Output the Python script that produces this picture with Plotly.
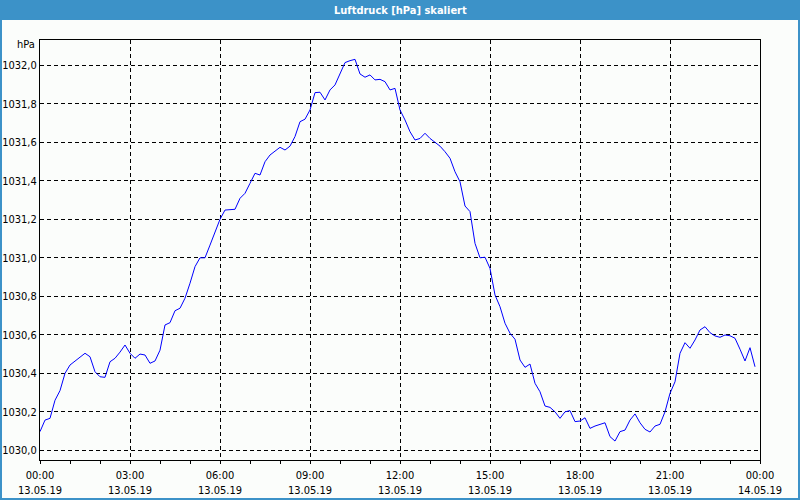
import plotly.graph_objects as go
import pandas as pd

# pressure values every 10 minutes, 13.05.19 00:00 .. 23:50
pressure = [
    1030.097, 1030.157, 1030.166, 1030.260, 1030.310, 1030.400, 1030.443, 1030.465,
    1030.483, 1030.504, 1030.486, 1030.408, 1030.382, 1030.379, 1030.460, 1030.478,
    1030.510, 1030.547, 1030.504, 1030.478, 1030.500, 1030.495, 1030.452, 1030.464,
    1030.520, 1030.651, 1030.663, 1030.725, 1030.738, 1030.790, 1030.868, 1030.954,
    1031.000, 1031.000, 1031.066, 1031.136, 1031.200, 1031.248, 1031.250, 1031.252,
    1031.309, 1031.335, 1031.387, 1031.439, 1031.430, 1031.499, 1031.534, 1031.555,
    1031.574, 1031.560, 1031.580, 1031.630, 1031.707, 1031.720, 1031.768, 1031.858,
    1031.860, 1031.820, 1031.872, 1031.898, 1031.958, 1032.014, 1032.024, 1032.031,
    1031.955, 1031.938, 1031.950, 1031.924, 1031.927, 1031.915, 1031.872, 1031.880,
    1031.768, 1031.716, 1031.655, 1031.612, 1031.620, 1031.647, 1031.620, 1031.598,
    1031.580, 1031.551, 1031.517, 1031.447, 1031.395, 1031.269, 1031.240, 1031.075,
    1031.000, 1031.003, 1030.945, 1030.807, 1030.746, 1030.660, 1030.608, 1030.577,
    1030.469, 1030.431, 1030.448, 1030.348, 1030.304, 1030.230, 1030.223, 1030.200,
    1030.166, 1030.200, 1030.206, 1030.149, 1030.152, 1030.169, 1030.114, 1030.126,
    1030.135, 1030.143, 1030.071, 1030.048, 1030.097, 1030.105, 1030.157, 1030.189,
    1030.143, 1030.109, 1030.095, 1030.126, 1030.135, 1030.200, 1030.296, 1030.356,
    1030.504, 1030.559, 1030.530, 1030.573, 1030.625, 1030.642, 1030.611, 1030.594,
    1030.587, 1030.599, 1030.595, 1030.582, 1030.525, 1030.464, 1030.533, 1030.434,
]
times = pd.date_range("2019-05-13 00:00", periods=len(pressure), freq="10min")

x_tick_vals = pd.date_range("2019-05-13 00:00", "2019-05-14 00:00", freq="3h")
x_tick_time = ["00:00", "03:00", "06:00", "09:00", "12:00", "15:00", "18:00", "21:00", "00:00"]
x_tick_date = ["13.05.19"] * 8 + ["14.05.19"]
y_tick_vals = [1030.0, 1030.2, 1030.4, 1030.6, 1030.8, 1031.0, 1031.2, 1031.4, 1031.6, 1031.8, 1032.0]
y_tick_text = ["1030,0", "1030,2", "1030,4", "1030,6", "1030,8", "1031,0",
               "1031,2", "1031,4", "1031,6", "1031,8", "1032,0"]

title = "Luftdruck [hPa] skaliert"
unit = "hPa"

FONT = "Tahoma, 'Liberation Sans Narrow', 'DejaVu Sans Condensed', 'Liberation Sans', sans-serif"
BLUE = "#3c92c8"

fig = go.Figure()
fig.add_trace(go.Scatter(x=times, y=pressure, mode="lines",
                         line=dict(color="#0000ff", width=1), hoverinfo="skip"))

W, H = 800, 500
L, R, T, B = 40, 40, 40, 40
pw, ph = W - L - R, H - T - B
def px(x):
    return (x - L) / pw
def py(y):
    return (H - B - y) / ph

fig.update_layout(
    width=W, height=H,
    margin=dict(l=L, r=R, t=T, b=B, pad=0),
    paper_bgcolor="#fbfdfb",
    plot_bgcolor="#fbfdfb",
    showlegend=False,
    font=dict(family=FONT, size=11, color="#000000"),
    xaxis=dict(
        type="date", automargin=False,
        range=["2019-05-13 00:00", "2019-05-14 00:00"],
        tickvals=list(x_tick_vals),
        ticktext=[f"{a}<br>{b}" for a, b in zip(x_tick_time, x_tick_date)],
        ticks="outside", ticklen=3, tickcolor="#000000",
        ticklabelstandoff=2,
        minor=dict(ticks="outside", ticklen=3, dtick=3600000, tickcolor="#000000", showgrid=False),
        showgrid=True, gridcolor="#000000", gridwidth=1, griddash="4px,3px",
        showline=True, linecolor="#000000", linewidth=1, mirror=True,
        zeroline=False, fixedrange=True,
    ),
    yaxis=dict(
        automargin=False,
        range=[1029.9496, 1032.1314],
        tickvals=y_tick_vals, ticktext=y_tick_text,
        ticks="", showgrid=True, gridcolor="#000000", gridwidth=1, griddash="4px,3px",
        showline=True, linecolor="#000000", linewidth=1, mirror=True,
        zeroline=False, fixedrange=True,
    ),
    shapes=[
        dict(type="rect", xref="paper", yref="paper", x0=px(0), x1=px(800), y0=py(20), y1=py(0),
             fillcolor=BLUE, line=dict(width=0), layer="above"),
        dict(type="rect", xref="paper", yref="paper", x0=px(0), x1=px(2), y0=py(500), y1=py(0),
             fillcolor=BLUE, line=dict(width=0), layer="above"),
        dict(type="rect", xref="paper", yref="paper", x0=px(798), x1=px(800), y0=py(500), y1=py(0),
             fillcolor=BLUE, line=dict(width=0), layer="above"),
        dict(type="rect", xref="paper", yref="paper", x0=px(0), x1=px(800), y0=py(500), y1=py(498),
             fillcolor=BLUE, line=dict(width=0), layer="above"),
    ],
    annotations=[
        dict(text=f"<b>{title}</b>", xref="paper", yref="paper", x=px(400), y=py(10),
             xanchor="center", yanchor="middle", showarrow=False,
             font=dict(family=FONT, size=11, color="#ffffff")),
        dict(text=unit, xref="paper", yref="paper", x=px(37), y=py(45),
             xanchor="right", yanchor="middle", showarrow=False,
             font=dict(family=FONT, size=11, color="#000000")),
    ],
)

fig.write_html("out.html")
